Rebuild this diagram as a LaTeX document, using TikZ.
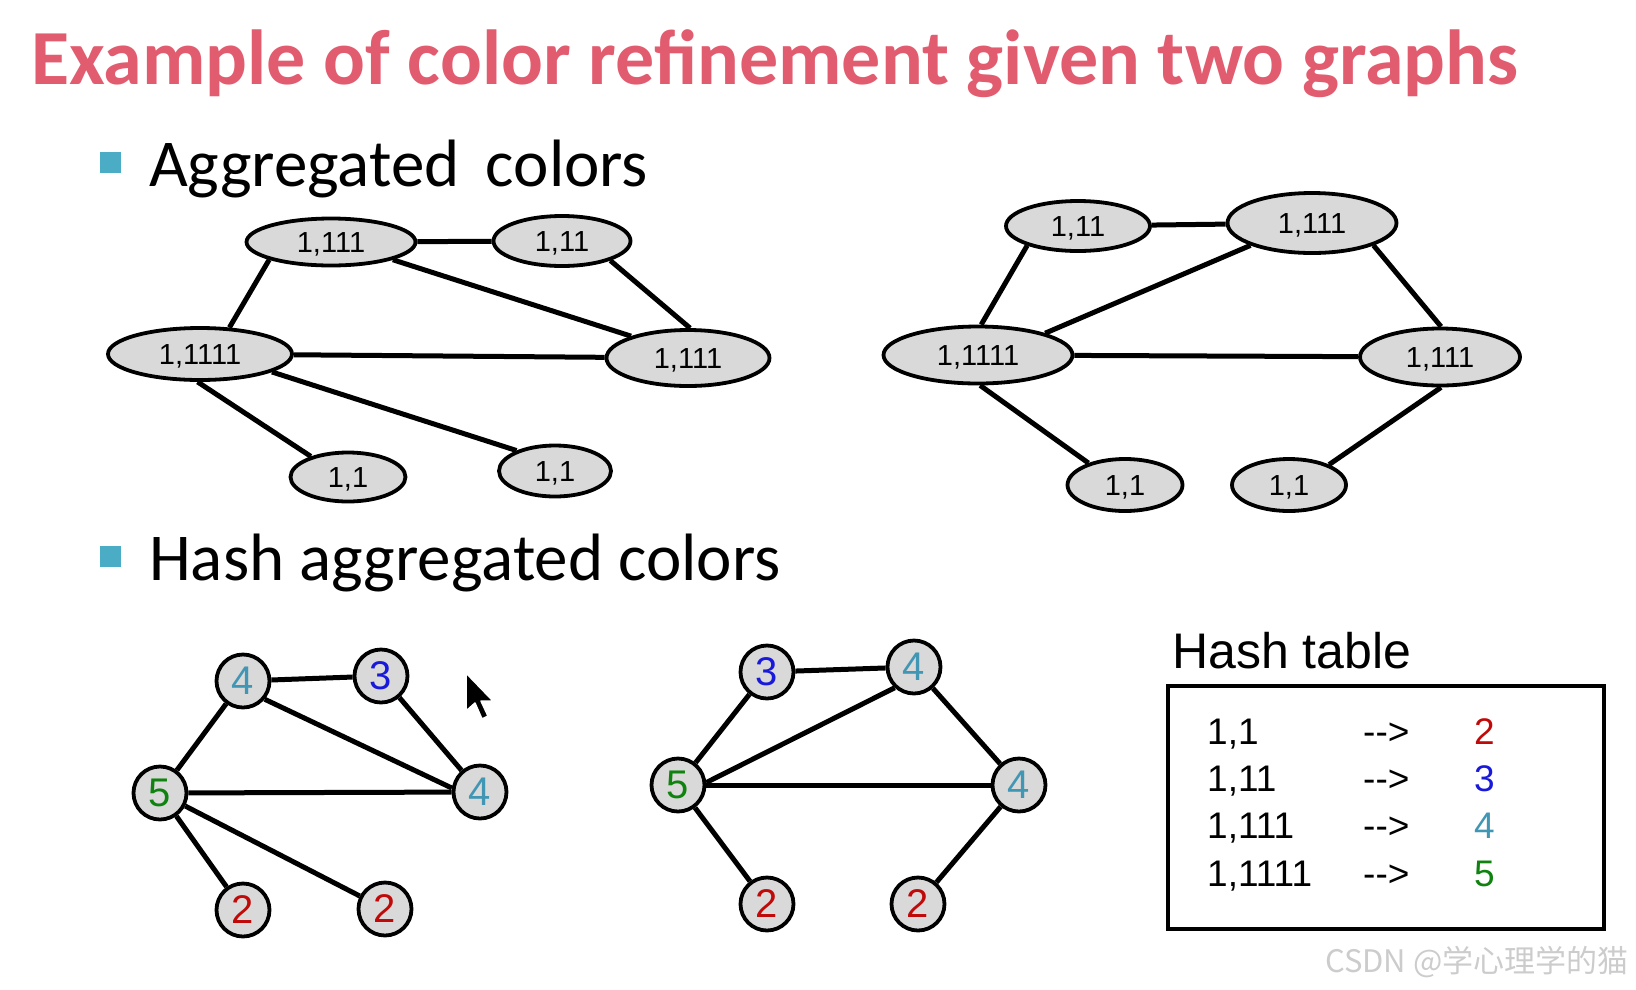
\documentclass[tikz,border=0pt]{standalone}
\usepackage{fontspec}
\setmainfont{Liberation Sans}
\newfontfamily\calib{Carlito}
\newfontfamily\cjkwm{Noto Sans CJK SC}
\usetikzlibrary{shapes.geometric}

\definecolor{titlered}{RGB}{226,92,112}
\definecolor{bulletblue}{RGB}{75,172,198}
\definecolor{nodegray}{RGB}{217,217,217}
\definecolor{hred}{RGB}{192,10,10}
\definecolor{hblue}{RGB}{25,25,220}
\definecolor{hteal}{RGB}{65,150,180}
\definecolor{hgreen}{RGB}{15,130,15}

\begin{document}
\begin{tikzpicture}[x=1pt,y=-1pt,
  agg/.style={ellipse, draw, line width=3.8pt, fill=nodegray, inner sep=0pt,
    font=\fontsize{29}{29}\selectfont, text height=21pt, text depth=0pt},
  hashnode/.style={circle, draw, line width=3.8pt, fill=nodegray,
    minimum size=53pt, inner sep=0pt, font=\fontsize{40}{40}\selectfont},
  edge/.style={line width=5pt},
  bullet/.style={fill=bulletblue, minimum size=21pt, inner sep=0pt},
  heading/.style={anchor=base west, inner sep=0pt, font=\calib\fontsize{67}{67}\selectfont},
  row/.style={anchor=base west, inner sep=0pt, font=\fontsize{37}{37}\selectfont},
]
\useasboundingbox (0,0) rectangle (1636,989);

% title and bullet headings
\node[anchor=base west, inner sep=0pt, text=titlered,
  font=\calib\bfseries\fontsize{78}{78}\selectfont] (title) at (31,84)
  {Example of color refinement given two graphs};
\node[bullet] (b1) at (110,162) {};
\node[heading] (h1) at (149,186) {Aggregated\, colors};
\node[bullet] (b2) at (110,556) {};
\node[heading] (h2) at (149,580) {Hash aggregated colors};

% first graph, aggregated colors
\node[agg, minimum width=169pt, minimum height=47pt] (A1) at (331,242) {1,111};
\node[agg, minimum width=137pt, minimum height=50pt] (A2) at (562,241) {1,11};
\node[agg, minimum width=184pt, minimum height=52pt] (A3) at (200,354) {1,1111};
\node[agg, minimum width=163pt, minimum height=56pt] (A4) at (688,358) {1,111};
\node[agg, minimum width=115pt, minimum height=49pt] (A5) at (348,477) {1,1};
\node[agg, minimum width=112pt, minimum height=51pt] (A6) at (555,471) {1,1};
\draw[edge] (A1) -- (A2);
\draw[edge] (A1.196) -- (A3.42);
\draw[edge] (A1.344) -- (A4.159);
\draw[edge] (A2.338) -- (A4.86);
\draw[edge] (A3) -- (A4);
\draw[edge] (A3.265) -- (A5.151);
\draw[edge] (A3.346) -- (A6.152);

% second graph, aggregated colors
\node[agg, minimum width=144pt, minimum height=50pt] (B1) at (1078,226) {1,11};
\node[agg, minimum width=169pt, minimum height=60pt] (B2) at (1312,223) {1,111};
\node[agg, minimum width=189pt, minimum height=57pt] (B3) at (978,355) {1,1111};
\node[agg, minimum width=160pt, minimum height=57pt] (B4) at (1440,357) {1,111};
\node[agg, minimum width=115pt, minimum height=52pt] (B5) at (1125,485) {1,1};
\node[agg, minimum width=114pt, minimum height=52pt] (B6) at (1289,485) {1,1};
\draw[edge] (B1) -- (B2);
\draw[edge] (B1.201) -- (B3.84);
\draw[edge] (B2.200) -- (B3.18);
\draw[edge] (B2.340) -- (B4.88);
\draw[edge] (B3) -- (B4);
\draw[edge] (B3.274) -- (B5.149);
\draw[edge] (B4.272) -- (B6.27);

% first graph, hashed colors
\node[hashnode, text=hteal]  (C1) at (243,681) {4};
\node[hashnode, text=hblue]  (C2) at (381,676) {3};
\node[hashnode, text=hgreen] (C3) at (160,793) {5};
\node[hashnode, text=hteal]  (C4) at (480,792) {4};
\node[hashnode, text=hred]   (C5) at (243,910) {2};
\node[hashnode, text=hred]   (C6) at (385,909) {2};
\draw[edge] (C1) -- (C2);
\draw[edge] (C1) -- (C3);
\draw[edge] (C1.-40) -- (C4.172);
\draw[edge] (C2) -- (C4);
\draw[edge] (C3) -- (C4);
\draw[edge] (C3) -- (C5);
\draw[edge] (C3) -- (C6);

% second graph, hashed colors
\node[hashnode, text=hblue]  (D1) at (767,672) {3};
\node[hashnode, text=hteal]  (D2) at (914,667) {4};
\node[hashnode, text=hgreen] (D3) at (678,785) {5};
\node[hashnode, text=hteal]  (D4) at (1019,785) {4};
\node[hashnode, text=hred]   (D5) at (767,904) {2};
\node[hashnode, text=hred]   (D6) at (918,904) {2};
\draw[edge] (D1) -- (D2);
\draw[edge] (D1) -- (D3);
\draw[edge] (D2.227) -- (D3.5);
\draw[edge] (D2) -- (D4);
\draw[edge] (D3) -- (D4);
\draw[edge] (D3) -- (D5);
\draw[edge] (D4) -- (D6);

% hash table
\node[anchor=base west, inner sep=0pt, font=\fontsize{50}{50}\selectfont]
  (httitle) at (1172,668) {Hash table};
\node[draw, line width=3.2pt, minimum width=436pt, minimum height=243pt,
  inner sep=0pt] (htbox) at (1386,807.5) {};
\node[row] (k1) at (1207,744) {1,1};
\node[row] (k2) at (1207,791) {1,11};
\node[row] (k3) at (1207,838) {1,111};
\node[row] (k4) at (1207,886) {1,1111};
\node[row] (m1) at (1363,744) {-{}->};
\node[row] (m2) at (1363,791) {-{}->};
\node[row] (m3) at (1363,838) {-{}->};
\node[row] (m4) at (1363,886) {-{}->};
\node[row, text=hred]   (v1) at (1474,744) {2};
\node[row, text=hblue]  (v2) at (1474,791) {3};
\node[row, text=hteal]  (v3) at (1474,838) {4};
\node[row, text=hgreen] (v4) at (1474,886) {5};

% mouse pointer
\filldraw[fill=black, draw=white, line width=1.5pt, line join=round]
  (466,673) -- ++(0,38) -- ++(9,-8) -- ++(7,16) -- ++(6,-3) -- ++(-7,-15)
  -- ++(12,0) -- cycle;

% watermark
\node[anchor=base west, inner sep=0pt, text=black!20,
  font=\cjkwm\fontsize{31}{31}\selectfont] (wm) at (1325,972)
  {CSDN @学心理学的猫};
\end{tikzpicture}
\end{document}
